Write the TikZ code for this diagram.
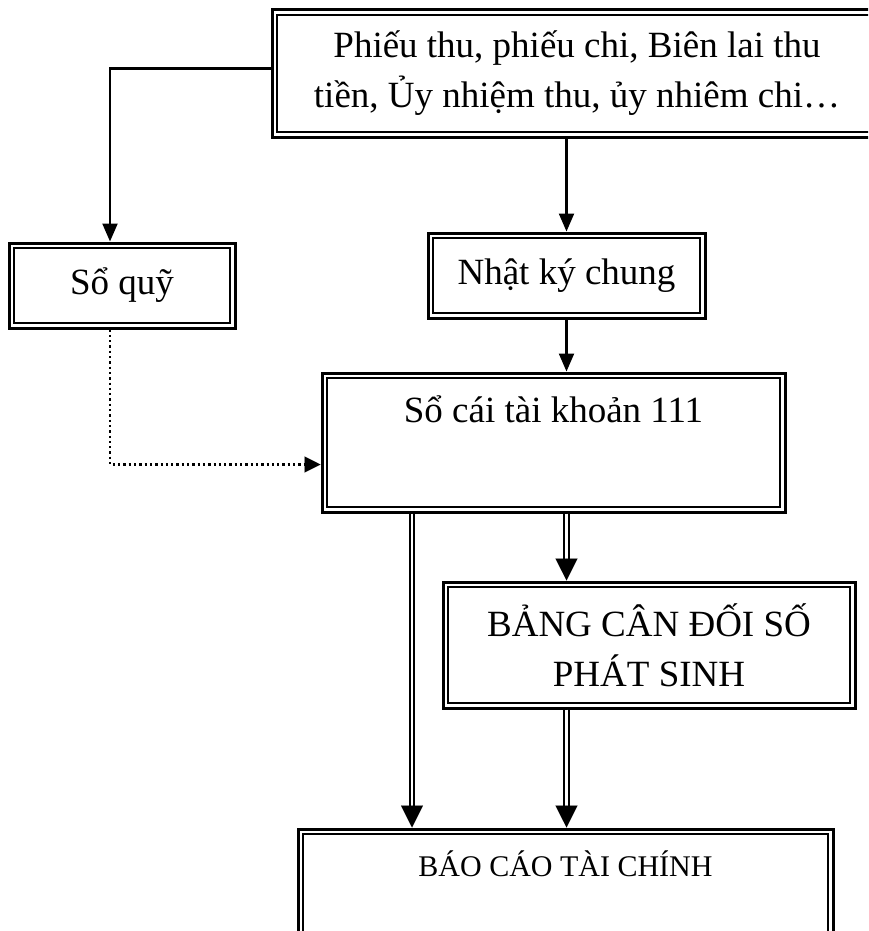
\documentclass[tikz,border=0pt]{standalone}
\usepackage{fontspec}
\setmainfont{Liberation Serif}
\usetikzlibrary{arrows.meta,calc}
\begin{document}
\begin{tikzpicture}[x=1pt,y=-1pt,
  box/.style={draw, line width=3pt, rectangle, inner sep=0pt, align=center,
    font=\fontsize{37}{50}\selectfont,
    path picture={\draw[line width=1.8pt]
      ([shift={(5pt,-5pt)}]path picture bounding box.north west) rectangle
      ([shift={(-5pt,5pt)}]path picture bounding box.south east);}},
  conn/.style={line width=2.2pt},
  stip/.style={-{Triangle[length=18pt,width=15pt]}},
  dotconn/.style={line width=2.3pt, dash pattern=on 2.3pt off 3pt},
  dtip/.style={-{Triangle[length=16pt,width=16pt]}},
  dbl/.style={draw, line width=2pt, double=white, double distance=2.6pt},
  btip/.style={line width=0.1pt, -{Triangle[length=22pt,width=22pt]}}
]
\useasboundingbox (0,0) rectangle (868,931);
\clip (0,0) rectangle (868,931);

\node[box, minimum width=610pt, minimum height=127pt] (top) at (577,73.5)
  {Phiếu thu, phiếu chi, Biên lai thu\\tiền, Ủy nhiệm thu, ủy nhiêm chi…};
\node[box, minimum width=226pt, minimum height=85pt] (quy) at (122,285.5) {Sổ quỹ};
\node[box, minimum width=277pt, minimum height=85pt] (nkc) at (566.5,275.5) {Nhật ký chung};
\node[box, minimum width=463pt, minimum height=139pt, text height=26pt, text depth=67pt]
  (socai) at (553.5,442.5) {Sổ cái tài khoản 111};
\node[box, minimum width=412pt, minimum height=126pt] (bang) at (649,645)
  {BẢNG CÂN ĐỐI SỐ\\PHÁT SINH};
\node[box, minimum width=535pt, minimum height=131pt, font=\fontsize{30}{36}\selectfont,
  text height=21pt, text depth=58pt] (bctc) at (565.5,894.5) {BÁO CÁO TÀI CHÍNH};

\coordinate (qa) at ([xshift=-12pt]quy.north);
\coordinate (qb) at ([xshift=-12pt]quy.south);
\coordinate (la) at ([xshift=-141.5pt]socai.south);

% top -> So quy
\draw[conn, stip] ([yshift=5pt]top.west) -| (qa);
% top -> Nhat ky chung
\draw[conn, stip] (nkc.north |- top.south) -- (nkc.north);
% Nhat ky chung -> So cai
\draw[conn, stip] (nkc.south) -- (nkc.south |- socai.north);
% So quy -> So cai (dotted)
\draw[dotconn] (qb) |- ([yshift=-22pt,xshift=-14pt]socai.west);
\draw[line width=0.1pt, dtip] ([yshift=-22pt,xshift=-16pt]socai.west) -- ([yshift=-22pt]socai.west);

% So cai -> Bang (double)
\draw[dbl, shorten >=20pt] (nkc.south |- socai.south) -- (nkc.south |- bang.north);
\draw[btip] ([yshift=22pt]nkc.south |- bang.north) -- (nkc.south |- bang.north);
% So cai -> Bao cao (double)
\draw[dbl, shorten >=20pt] (la) -- (la |- bctc.north);
\draw[btip] ([yshift=22pt]la |- bctc.north) -- (la |- bctc.north);
% Bang -> Bao cao (double)
\draw[dbl, shorten >=20pt] (nkc.south |- bang.south) -- (nkc.south |- bctc.north);
\draw[btip] ([yshift=22pt]nkc.south |- bctc.north) -- (nkc.south |- bctc.north);
\end{tikzpicture}
\end{document}
